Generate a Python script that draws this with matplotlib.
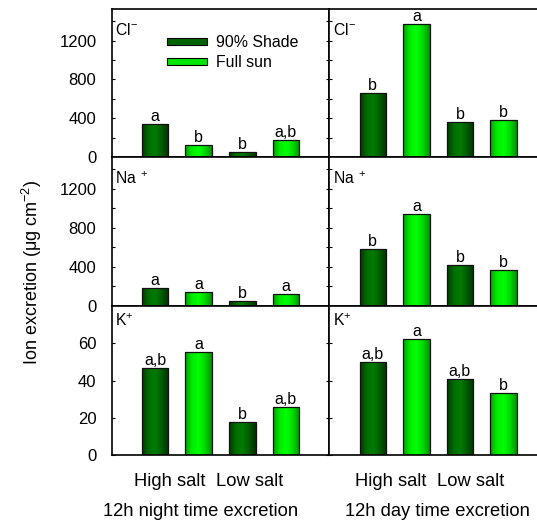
import numpy as np
import matplotlib
matplotlib.use('Agg')
import matplotlib.pyplot as plt
from matplotlib.colors import LinearSegmentedColormap
from matplotlib.patches import Patch
from matplotlib.ticker import MultipleLocator, FixedLocator

plt.rcParams['font.family'] = ['Liberation Sans', 'DejaVu Sans']
plt.rcParams['mathtext.fontset'] = 'custom'
plt.rcParams['mathtext.rm'] = 'Liberation Sans'
plt.rcParams['mathtext.it'] = 'Liberation Sans'

# === Data ===
salt_levels = ['High salt', 'Low salt']
treatments = ['90% Shade', 'Full sun']
periods = ['12h night time excretion', '12h day time excretion']
ions = [r'Cl$^{\mathregular{-}}$', r'Na$^{\mathregular{\ +}}$', r'K$^{\mathregular{+}}$']

night_cl_shade = [338, 52]
night_cl_sun = [127, 172]
day_cl_shade = [658, 358]
day_cl_sun = [1367, 382]

night_na_shade = [178, 45]
night_na_sun = [144, 120]
day_na_shade = [585, 420]
day_na_sun = [937, 366]

night_k_shade = [47.0, 17.7]
night_k_sun = [55.2, 26.0]
day_k_shade = [50.0, 40.9]
day_k_sun = [62.5, 33.2]

# significance letters, order: shade-HS, sun-HS, shade-LS, sun-LS
night_cl_letters = ['a', 'b', 'b', 'a,b']
day_cl_letters = ['b', 'a', 'b', 'b']
night_na_letters = ['a', 'a', 'b', 'a']
day_na_letters = ['b', 'a', 'b', 'b']
night_k_letters = ['a,b', 'a', 'b', 'a,b']
day_k_letters = ['a,b', 'a', 'a,b', 'b']

panels = [
    [(night_cl_shade, night_cl_sun, night_cl_letters), (day_cl_shade, day_cl_sun, day_cl_letters)],
    [(night_na_shade, night_na_sun, night_na_letters), (day_na_shade, day_na_sun, day_na_letters)],
    [(night_k_shade, night_k_sun, night_k_letters), (day_k_shade, day_k_sun, day_k_letters)],
]

dark_cmap = LinearSegmentedColormap.from_list('dark', ['#003a00', '#006e00', '#007c00', '#005a00', '#003000'])
light_cmap = LinearSegmentedColormap.from_list('light', ['#00a000', '#00ec00', '#00ff00', '#00d800', '#009000'])
colors = ['#006400', '#00e600']
cmaps = [dark_cmap, light_cmap]

W, H = 537, 521
fig = plt.figure(figsize=(W / 100, H / 100), dpi=100)

col_left = [111.7, 329.3]
col_width = 217.6
row_top = [9, 157, 305.7]
row_bottom = [157, 305.7, 455]

ylims = [1525, 1525, 80.3]
major_ticks = [[0, 400, 800, 1200], [0, 400, 800, 1200], [0, 20, 40, 60]]
minor = [200, 200, None]
label_y = [0.824, 0.818, 0.866]

grad = np.linspace(0, 1, 64).reshape(1, -1)
bar_w = 0.61


def gradient_bars(ax, xs, heights, cmap, color):
    bars = ax.bar(xs, heights, bar_w, color=color, edgecolor='none', zorder=2)
    for b in bars:
        x0, y0 = b.get_x(), b.get_y()
        im = ax.imshow(grad, extent=[x0, x0 + b.get_width(), y0, y0 + b.get_height()],
                       cmap=cmap, aspect='auto', zorder=2.5, interpolation='bilinear')
        im.set_clip_path(b)
    ax.bar(xs, heights, bar_w, fill=False, edgecolor='#111111', linewidth=0.9, zorder=3)


axes = {}
for r in range(3):
    for c in range(2):
        left = col_left[c] / W
        bottom = 1 - row_bottom[r] / H
        height = (row_bottom[r] - row_top[r]) / H
        ax = fig.add_axes([left, bottom, col_width / W, height])
        axes[(r, c)] = ax
        shade, sun, letters = panels[r][c]
        x_shade = [2 * i + 1 for i in range(len(salt_levels))]
        x_sun = [2 * i + 2 for i in range(len(salt_levels))]
        gradient_bars(ax, x_shade, shade, cmaps[0], colors[0])
        gradient_bars(ax, x_sun, sun, cmaps[1], colors[1])

        order_x = [x_shade[0], x_sun[0], x_shade[1], x_sun[1]]
        order_h = [shade[0], sun[0], shade[1], sun[1]]
        for x, h, lab in zip(order_x, order_h, letters):
            ax.text(x, h, lab, ha='center', va='bottom', fontsize=11.5)

        ax.set_xlim(0, 5)
        ax.set_ylim(0, ylims[r])
        ax.set_xticks([])
        ax.yaxis.set_major_locator(FixedLocator(major_ticks[r]))
        if minor[r]:
            ax.yaxis.set_minor_locator(MultipleLocator(minor[r]))
        ax.tick_params(axis='y', which='both', direction='in', length=2.5, width=0.8,
                       left=True, right=(c == 0), labelleft=(c == 0), labelsize=12, pad=11)
        for s in ax.spines.values():
            s.set_linewidth(1.2)
        ax.text(0.017, label_y[r], ions[r], transform=ax.transAxes, ha='left', va='baseline',
                fontsize=11.3)

# legend in the top-left panel
handles = [Patch(facecolor=colors[0], edgecolor='black', linewidth=0.8),
           Patch(facecolor=colors[1], edgecolor='black', linewidth=0.8)]
axes[(0, 0)].legend(handles, treatments, loc='upper left', bbox_to_anchor=(0.203, 0.9),
                    frameon=False, fontsize=11.4, handlelength=2.5, handleheight=0.3,
                    handletextpad=0.6, labelspacing=0.35, borderpad=0.2)

# x-axis category labels and period titles
salt_x = [[0.268, 0.636], [0.281, 0.651]]
title_x = [0.41, 0.495]
for c in range(2):
    ax = axes[(2, c)]
    for s, sx in zip(salt_levels, salt_x[c]):
        ax.text(sx, -0.179, s, transform=ax.transAxes, ha='center', va='center', fontsize=13.2)
    ax.text(title_x[c], -0.38, periods[c], transform=ax.transAxes, ha='center', va='center',
            fontsize=13.2)

fig.text(32 / W, 1 - 272 / H, r'Ion excretion ($\mathregular{\mu}$g cm$^{\mathregular{-2}}$)',
         rotation=90, ha='center', va='center', fontsize=13)

fig.savefig('out.png', dpi=100)
